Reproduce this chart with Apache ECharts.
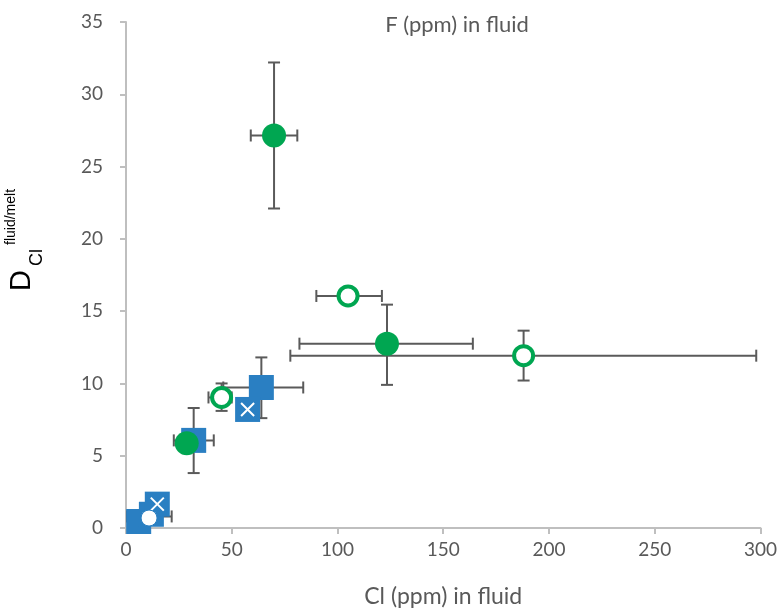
<!DOCTYPE html>
<html>
<head>
<meta charset="utf-8">
<script src="https://cdn.jsdelivr.net/npm/echarts@6/dist/echarts.min.js"></script>
<style>html,body{margin:0;padding:0;background:#fff;}#c{width:780px;height:613px;}</style>
</head>
<body>
<div id="c"></div>
<script>
// ---- data ----
const filledX = [70, 123.4, 28.7];
const filledY = [27.15, 12.75, 5.86];
const openX = [105, 188, 45.2];
const openY = [16.05, 11.92, 9.03];
const squareX = [64, 32, 6, 12];
const squareY = [9.72, 6.06, 0.45, 0.95];
const crossX = [57.5, 14.8];
const crossY = [8.2, 1.65];
const whiteX = [10.9];
const whiteY = [0.69];
// error bars: centre, x-range, y-range
const errX = [70, 123.4, 105, 188, 45.2, 64, 32, 10.9];
const errY = [27.15, 12.75, 16.05, 11.92, 9.03, 9.72, 6.06, 0.8];
const errXLow = [59, 82, 90, 77.7, 39, 46, 22.6, 0.5];
const errXHigh = [81, 164, 121, 298, 50, 83.8, 41.5, 21.6];
const errYLow = [22.1, 9.9, 15.75, 10.2, 8.1, 7.6, 3.8, 0.8];
const errYHigh = [32.2, 15.45, 16.35, 13.65, 10.0, 11.8, 8.3, 0.8];
const xTicks = [0, 50, 100, 150, 200, 250, 300];
const yTicks = [0, 5, 10, 15, 20, 25, 30, 35];
const titleText = 'F (ppm) in fluid';
const xName = 'Cl (ppm) in fluid';

const zip = (a, b) => a.map((v, i) => [v, b[i]]);
const errData = errX.map((v, i) => [v, errY[i], errXLow[i], errXHigh[i], errYLow[i], errYHigh[i]]);

const GREEN = '#00a651';
const BLUE = '#2a7fc2';
const ERR = '#5a5a5a';
const TXT = '#595959';
const FONT = 'Lato';

function renderErr(params, api) {
  const x = api.value(0), y = api.value(1);
  const xl = api.value(2), xh = api.value(3), yl = api.value(4), yh = api.value(5);
  const cap = 6;
  const st = {stroke: ERR, lineWidth: 2};
  const ch = [];
  const pl = api.coord([xl, y]), ph = api.coord([xh, y]);
  if (ph[0] - pl[0] > 1) {
    ch.push({type: 'line', shape: {x1: pl[0], y1: pl[1], x2: ph[0], y2: ph[1]}, style: st});
    ch.push({type: 'line', shape: {x1: pl[0], y1: pl[1] - cap, x2: pl[0], y2: pl[1] + cap}, style: st});
    ch.push({type: 'line', shape: {x1: ph[0], y1: ph[1] - cap, x2: ph[0], y2: ph[1] + cap}, style: st});
  }
  const ql = api.coord([x, yl]), qh = api.coord([x, yh]);
  if (ql[1] - qh[1] > 1) {
    ch.push({type: 'line', shape: {x1: ql[0], y1: ql[1], x2: qh[0], y2: qh[1]}, style: st});
    ch.push({type: 'line', shape: {x1: ql[0] - cap, y1: ql[1], x2: ql[0] + cap, y2: ql[1]}, style: st});
    ch.push({type: 'line', shape: {x1: qh[0] - cap, y1: qh[1], x2: qh[0] + cap, y2: qh[1]}, style: st});
  }
  return {type: 'group', children: ch};
}

const chart = echarts.init(document.getElementById('c'), null, {renderer: 'canvas'});
chart.setOption({
  animation: false,
  backgroundColor: '#fff',
  title: {
    text: titleText, left: 452, top: 9, textAlign: 'center',
    textStyle: {fontFamily: FONT, fontSize: 22, fontWeight: 'normal', color: TXT}
  },
  grid: {left: 126, right: 17, top: 22, bottom: 83, containLabel: false},
  xAxis: {
    type: 'value', min: 0, max: 300, interval: 50,
    name: xName, nameLocation: 'middle', nameGap: 57,
    nameTextStyle: {fontFamily: FONT, fontSize: 23, color: TXT},
    axisLine: {show: true, onZero: false, lineStyle: {color: '#bfbfbf', width: 2}},
    axisTick: {show: true, length: 6, lineStyle: {color: '#bfbfbf', width: 2}},
    axisLabel: {fontFamily: FONT, fontSize: 19, color: TXT, margin: 12,
      formatter: v => xTicks.includes(v) ? String(v) : ''},
    splitLine: {show: false}
  },
  yAxis: {
    type: 'value', min: 0, max: 35, interval: 5,
    axisLine: {show: true, onZero: false, lineStyle: {color: '#bfbfbf', width: 2}},
    axisTick: {show: true, length: 6, lineStyle: {color: '#bfbfbf', width: 2}},
    axisLabel: {fontFamily: FONT, fontSize: 19, color: TXT, margin: 23,
      formatter: v => yTicks.includes(v) ? String(v) : ''},
    splitLine: {show: false}
  },
  graphic: [{
    type: 'group', x: 36, y: 291, rotation: Math.PI / 2,
    children: [
      {type: 'text', x: 0, y: 0, style: {text: 'D', font: '29px "Liberation Sans"', fill: '#000', textVerticalAlign: 'bottom'}},
      {type: 'text', x: 25, y: 10, style: {text: 'Cl', font: '18px "Liberation Sans"', fill: '#000', textVerticalAlign: 'bottom'}},
      {type: 'text', x: 46, y: -18, style: {text: 'fluid/melt', font: '14px "Liberation Sans"', fill: '#000', textVerticalAlign: 'bottom'}}
    ]
  }],
  series: [
    {type: 'custom', name: 'err', data: errData, renderItem: renderErr, z: 1, silent: true},
    {type: 'scatter', name: 'sq', data: zip(squareX, squareY), symbol: 'rect', symbolSize: 25,
      itemStyle: {color: BLUE, opacity: 1}, z: 2},
    {type: 'scatter', name: 'sqx', data: zip(crossX, crossY), symbol: 'rect', symbolSize: 25,
      itemStyle: {color: BLUE, opacity: 1}, z: 3},
    {type: 'scatter', name: 'x', data: zip(crossX, crossY), symbol: 'path://M0,0L10,10M10,0L0,10', symbolSize: 13,
      itemStyle: {color: 'none', borderColor: '#fff', borderWidth: 2, opacity: 1}, z: 4},
    {type: 'scatter', name: 'filled', data: zip(filledX, filledY), symbol: 'circle', symbolSize: 24,
      itemStyle: {color: GREEN, opacity: 1}, z: 5},
    {type: 'scatter', name: 'open', data: zip(openX, openY), symbol: 'circle', symbolSize: 19,
      itemStyle: {color: '#fff', borderColor: GREEN, borderWidth: 4, opacity: 1}, z: 5},
    {type: 'scatter', name: 'white', data: zip(whiteX, whiteY), symbol: 'circle', symbolSize: 16,
      itemStyle: {color: '#fff', borderColor: BLUE, borderWidth: 1, opacity: 1}, z: 6}
  ]
});
</script>
</body>
</html>
